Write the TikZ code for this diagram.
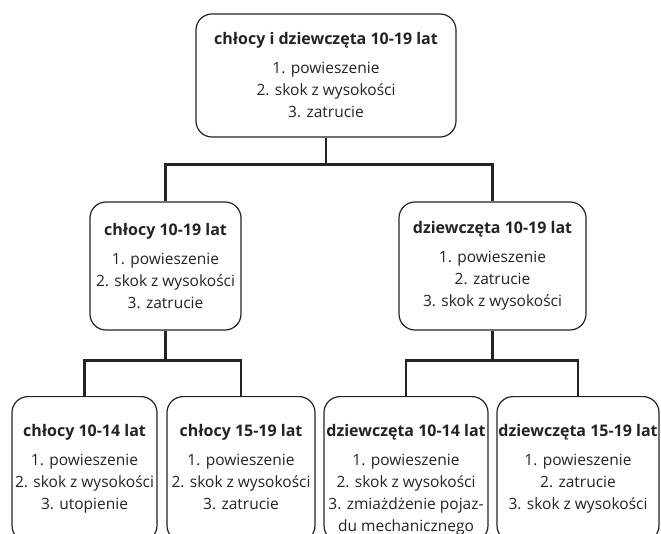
\documentclass[tikz,border=0pt]{standalone}
\usepackage{fontspec}
\setmainfont{Open Sans}
\usetikzlibrary{positioning}
\definecolor{inkgray}{RGB}{35,35,35}
\newcommand{\boxtitle}[1]{{\fontsize{16}{22}\selectfont\bfseries #1}\\[7pt]}

\begin{document}
\begin{tikzpicture}[x=1pt, y=-1pt,
    every node/.style={font=\fontsize{15.5}{22}\selectfont, text=inkgray},
    groupbox/.style={rectangle, draw=inkgray, rounded corners=16pt, line width=1.2pt,
                     align=center, inner sep=0pt},
    leafbox/.style={groupbox, anchor=north, minimum height=145pt},
    leaftext/.style={align=center, inner sep=0pt, anchor=north},
    link/.style={draw=inkgray, line width=2.6pt}
]
\clip (0,0) rectangle (661,534);
\node[groupbox, minimum width=260pt, minimum height=123pt] (all) at (326,75.5)
    {\boxtitle{chłocy i dziewczęta 10-19 lat}1. powieszenie\\2. skok z wysokości\\3. zatrucie};
\node[groupbox, minimum width=151pt, minimum height=128pt] (boys) at (165.5,266)
    {\boxtitle{chłocy 10-19 lat}1. powieszenie\\2. skok z wysokości\\3. zatrucie};
\node[groupbox, minimum width=187pt, minimum height=128pt] (girls) at (492.5,266)
    {\boxtitle{dziewczęta 10-19 lat}1. powieszenie\\2. zatrucie\\3. skok z wysokości};
\node[leafbox, minimum width=145pt] (boysA) at (84.5,396) {};
\node[leafbox, minimum width=148pt] (boysB) at (241,396) {};
\node[leafbox, minimum width=164pt] (girlsA) at (406,396) {};
\node[leafbox, minimum width=162pt] (girlsB) at (578,396) {};
\node[leaftext, below=28pt of boysA.north] (boysAtext)
    {\boxtitle{chłocy 10-14 lat}1. powieszenie\\2. skok z wysokości\\3. utopienie};
\node[leaftext, below=28pt of boysB.north] (boysBtext)
    {\boxtitle{chłocy 15-19 lat}1. powieszenie\\2. skok z wysokości\\3. zatrucie};
\node[leaftext, below=28pt of girlsA.north] (girlsAtext)
    {\boxtitle{dziewczęta 10-14 lat}1. powieszenie\\2. skok z wysokości\\3. zmiażdżenie pojaz-\\du mechanicznego};
\node[leaftext, below=28pt of girlsB.north] (girlsBtext)
    {\boxtitle{dziewczęta 15-19 lat}1. powieszenie\\2. zatrucie\\3. skok z wysokości};
\draw[link] (all.south) -- ++(0,27) -| (boys.north);
\draw[link] (all.south) -- ++(0,27) -| (girls.north);
\draw[link] (boys.south) -- ++(0,30) -| (boysA.north);
\draw[link] (boys.south) -- ++(0,30) -| (boysB.north);
\draw[link] (girls.south) -- ++(0,30) -| (girlsA.north);
\draw[link] (girls.south) -- ++(0,30) -| (girlsB.north);
\end{tikzpicture}
\end{document}
